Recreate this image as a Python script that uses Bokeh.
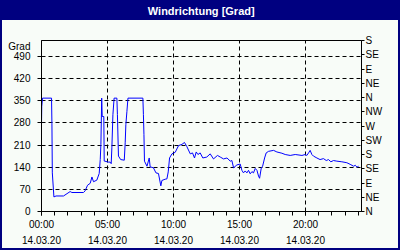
from bokeh.plotting import figure
from bokeh.models import LinearAxis, FixedTicker, Range1d
from bokeh.embed import file_html
from bokeh.resources import INLINE

hours = [0.0, 0.02, 0.08, 0.76, 0.79, 0.82, 0.94, 1.1, 1.67, 2.17, 2.3, 3.18, 3.3, 3.49,
         3.69, 3.82, 3.94, 4.19, 4.37, 4.45, 4.5, 4.56, 4.6, 4.72, 4.75, 4.8, 5.05, 5.2,
         5.28, 5.33, 5.41, 5.5, 5.71, 5.75, 5.83, 6.0, 6.27, 6.34, 6.39, 6.47, 6.55, 7.68,
         7.72, 7.76, 7.8, 7.99, 8.16, 8.23, 8.48, 8.67, 8.86, 9.04, 9.12, 9.37, 9.5, 9.6,
         9.7, 9.88, 10.13, 10.38, 10.64, 10.83, 11.01, 11.27, 11.44, 11.59, 11.72, 11.85,
         12.02, 12.22, 12.52, 12.78, 13.03, 13.33, 13.54, 13.79, 14.05, 14.3, 14.42, 14.55,
         14.8, 15.05, 15.18, 15.3, 15.43, 15.56, 15.68, 15.81, 15.94, 16.06, 16.19, 16.32,
         16.44, 16.52, 16.65, 16.75, 16.9, 17.02, 17.2, 17.58, 17.83, 18.21, 18.46, 18.84,
         19.22, 19.73, 19.98, 20.1, 20.23, 20.35, 20.48, 20.6, 20.86, 21.1, 21.36, 21.57,
         21.74, 21.92, 22.12, 22.37, 22.75, 23.13, 23.38, 23.64, 23.77, 23.9, 24.02]
direction = [274, 332, 358, 358, 277, 122, 46, 49, 49, 63, 60, 60, 65, 83,
             89, 109, 94, 99, 120, 164, 211, 358, 300, 300, 159, 159, 156, 156,
             151, 201, 306, 358, 358, 306, 175, 164, 162, 217, 274, 316, 358, 358,
             306, 243, 159, 143, 169, 141, 138, 122, 120, 81, 98, 102, 103, 125,
             169, 182, 187, 208, 212, 218, 205, 182, 185, 169, 188, 180,
             185, 169, 172, 182, 166, 177, 172, 166, 169, 159, 161, 138,
             147, 150, 130, 122, 128, 122, 130, 119, 126, 122, 136, 130,
             112, 105, 138, 143, 169, 185, 190, 193, 188, 184, 180, 177,
             180, 177, 180, 177, 185, 193, 180, 175, 169, 164, 167, 161,
             164, 157, 161, 159, 157, 154, 149, 143, 146, 140, 143]

x_ticks = [0, 5, 10, 15, 20]
x_time_labels = ["00:00", "05:00", "10:00", "15:00", "20:00"]
x_date_labels = ["14.03.20", "14.03.20", "14.03.20", "14.03.20", "14.03.20"]
y_ticks = [0, 70, 140, 210, 280, 350, 420, 490]
y_labels = ["0", "70", "140", "210", "280", "350", "420", "490"]
unit_pos = 522
unit_text = "Grad"
compass_ticks = [0, 45, 90, 135, 180, 225, 270, 315, 360, 405, 450, 495, 540]
compass_labels = ["N", "NE", "E", "SE", "S", "SW", "W", "NW", "N", "NE", "E", "SE", "S"]
title_pos = 12.1
title_text = "Windrichtung [Grad]"

NAVY = "#000080"
BG = "#F8FCF8"
FONT = "Liberation Sans"

p = figure(width=400, height=250, output_backend="svg", toolbar_location=None,
           x_range=Range1d(0, 24.24), y_range=Range1d(0, 540),
           min_border_left=41, min_border_right=39, min_border_top=40, min_border_bottom=39)
p.title_location = None
p.border_fill_color = None
p.background_fill_color = None
p.styles = {"background-color": BG,
            "box-shadow": f"inset 0 20px 0 0 {NAVY}, inset 0 0 0 2px {NAVY}"}
p.outline_line_color = "black"
p.outline_line_width = 1

xa = p.below[0]
ya = p.left[0]

p.line(hours, direction, line_color="#0000FF", line_width=1)


def plain(ax, size="10px"):
    ax.major_label_text_font = FONT
    ax.major_label_text_font_size = size
    ax.major_label_text_color = "black"
    ax.major_tick_in = 0
    ax.minor_tick_in = 0


# bottom axis (time)
xa.ticker = FixedTicker(ticks=x_ticks, minor_ticks=list(range(0, 25)))
xa.major_label_overrides = dict(zip(x_ticks, x_time_labels))
plain(xa)
xa.major_tick_out = 4
xa.minor_tick_out = 4
xa.major_label_standoff = 3
xa.axis_line_color = "black"

# second bottom axis (date)
xd = LinearAxis(ticker=FixedTicker(ticks=x_ticks))
xd.major_label_overrides = dict(zip(x_ticks, x_date_labels))
plain(xd)
xd.axis_line_color = None
xd.major_tick_line_color = None
xd.minor_tick_line_color = None
xd.major_tick_out = 0
xd.minor_tick_out = 0
xd.major_label_standoff = 3
p.add_layout(xd, "below")

# title, drawn as the only label of an axis above the frame
ta = LinearAxis(ticker=FixedTicker(ticks=[title_pos]))
ta.major_label_overrides = {title_pos: title_text}
plain(ta, "11px")
ta.major_label_text_color = "white"
ta.major_label_text_font_style = "bold"
ta.axis_line_color = None
ta.major_tick_line_color = None
ta.minor_tick_line_color = None
ta.major_tick_out = 0
ta.minor_tick_out = 0
ta.major_label_standoff = 24
p.add_layout(ta, "above")

# left axis: tick marks as minor ticks, labels (incl. unit) as majors
ya.ticker = FixedTicker(ticks=y_ticks + [unit_pos], minor_ticks=y_ticks)
ya.major_label_overrides = dict(zip(y_ticks + [unit_pos], y_labels + [unit_text]))
plain(ya)
ya.major_tick_out = 0
ya.major_tick_line_color = None
ya.minor_tick_out = 4
ya.major_label_standoff = 7
ya.axis_line_color = "black"

# right compass axis
ra = LinearAxis(ticker=FixedTicker(ticks=compass_ticks))
ra.major_label_overrides = dict(zip(compass_ticks, compass_labels))
plain(ra)
ra.major_tick_out = 3
ra.minor_tick_out = 0
ra.major_label_standoff = 1
ra.axis_line_color = "black"
p.add_layout(ra, "right")

# grids
p.xgrid.ticker = FixedTicker(ticks=x_ticks)
p.ygrid.ticker = FixedTicker(ticks=y_ticks)
for g in (p.xgrid[0], p.ygrid[0]):
    g.grid_line_color = "black"
    g.grid_line_dash = "4 3"
    g.grid_line_width = 1

open("out.html", "w").write(file_html(p, INLINE))
